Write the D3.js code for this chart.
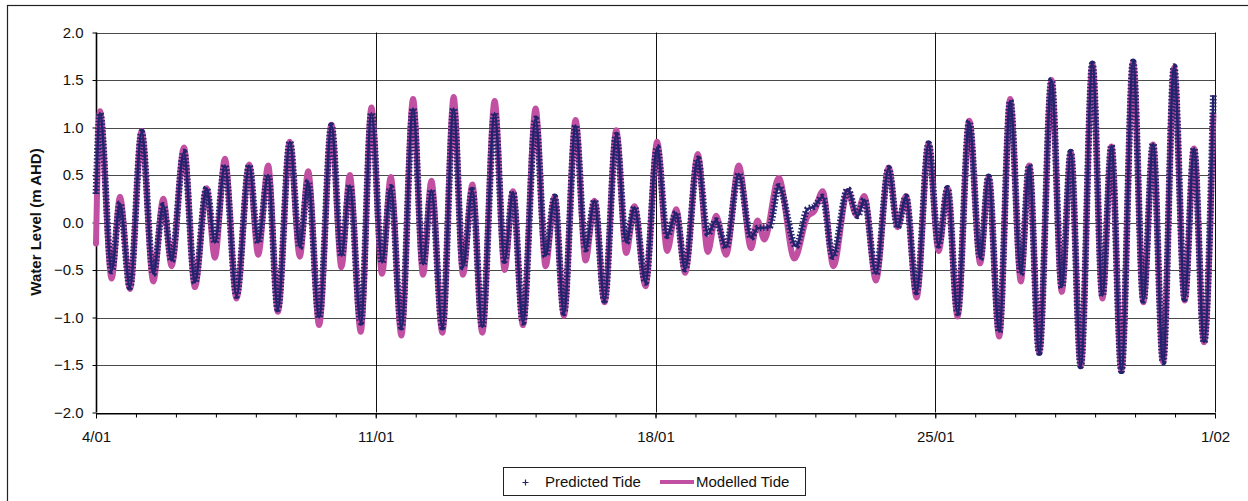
<!DOCTYPE html>
<html><head><meta charset="utf-8">
<script src="https://cdn.jsdelivr.net/npm/d3@7"></script>
<style>body{margin:0;background:#fff}svg{display:block}text{font-family:"Liberation Sans",Arial,sans-serif}</style>
</head><body><svg id="c" width="1248" height="501"></svg>
<script>
// hours since 4/01 00:00 and water level (m AHD) at turning points
const predHours = [0,2.4,9.4,14.4,20.4,27.4,34.4,40.4,45.4,52.8,59.4,66.4,71.4,77.4,84.4,92.0,97.4,103.4,109.2,116.4,122.4,127.4,134.0,141.4,147.4,152.4,159.0,165.4,171.8,177.0,183.4,190.4,196.4,201.4,208.0,214.8,220.4,226.0,232.0,239.4,245.4,250.4,256.4,264.0,270.0,275.4,281.0,288.0,294.0,299.4,305.4,312.4,318.4,323.4,330.0,337.0,343.0,348.4,353.8,361.4,367.4,372.4,378.4,386.0,393.4,397.2,404.4,410.0,420.4,427.2,431.4,436.4,442.4,451.4,457.4,461.4,468.4,476.0,481.4,486.4,492.8,500.0,506.0,511.4,517.4,524.4,531.0,536.0,542.4,549.0,555.4,560.4,566.4,573.8,580.0,585.4,591.4,598.4,604.4,609.8,615.8,622.8,629.0,634.8,640.8,647.4,653.8,659.4,665.4,671.0];
const predLevel = [0.30,1.15,-0.51,0.20,-0.68,0.95,-0.54,0.18,-0.40,0.74,-0.63,0.36,-0.21,0.60,-0.77,0.60,-0.21,0.50,-0.91,0.85,-0.26,0.43,-1.00,1.02,-0.35,0.39,-1.05,1.15,-0.42,0.37,-1.10,1.20,-0.44,0.34,-1.10,1.20,-0.47,0.34,-1.10,1.15,-0.40,0.32,-1.05,1.09,-0.35,0.27,-0.95,1.02,-0.28,0.23,-0.82,0.92,-0.21,0.16,-0.63,0.79,-0.14,0.10,-0.49,0.67,-0.12,0.02,-0.26,0.51,-0.16,-0.06,-0.05,0.38,-0.25,0.14,0.17,0.27,-0.36,0.35,0.07,0.24,-0.54,0.57,-0.05,0.27,-0.73,0.83,-0.24,0.36,-0.95,1.06,-0.38,0.48,-1.15,1.28,-0.54,0.60,-1.37,1.50,-0.68,0.74,-1.51,1.67,-0.77,0.81,-1.56,1.69,-0.82,0.83,-1.47,1.64,-0.80,0.78,-1.26,1.34];
const modHours = [0,2.4,9.4,14.4,20.4,27.4,34.4,40.4,45.4,52.8,59.4,66.4,71.4,77.4,84.4,92.0,97.4,103.4,109.2,116.4,122.4,127.4,134.0,141.4,147.4,152.4,159.0,165.4,171.8,177.0,183.4,190.4,196.4,201.4,208.0,214.8,220.4,226.0,232.0,239.4,245.4,250.4,256.4,264.0,270.0,275.4,281.0,288.0,294.0,299.4,305.4,312.4,318.4,323.4,330.0,337.0,343.0,348.4,353.8,361.4,367.4,372.4,378.4,386.0,393.4,397.2,401.4,410.0,419.4,427.2,431.4,436.4,442.8,451.4,456.6,461.4,468.4,476.0,481.4,486.4,492.8,500.0,506.0,511.4,517.4,524.4,531.0,536.0,542.4,549.0,555.4,560.4,566.4,573.8,580.0,585.4,591.4,598.4,604.4,609.8,615.8,622.8,629.0,634.8,640.8,647.4,653.8,659.4,665.4,671.0];
const modLevel = [-0.22,1.17,-0.59,0.27,-0.70,0.96,-0.62,0.25,-0.46,0.79,-0.68,0.36,-0.37,0.67,-0.80,0.61,-0.34,0.60,-0.94,0.85,-0.36,0.54,-1.08,1.03,-0.47,0.50,-1.15,1.21,-0.54,0.48,-1.19,1.30,-0.55,0.44,-1.16,1.32,-0.55,0.40,-1.16,1.28,-0.50,0.33,-1.08,1.20,-0.46,0.27,-0.98,1.08,-0.40,0.23,-0.84,0.97,-0.32,0.17,-0.67,0.85,-0.30,0.14,-0.53,0.72,-0.31,0.07,-0.34,0.60,-0.27,0.02,-0.18,0.47,-0.38,0.06,0.12,0.33,-0.46,0.33,0.08,0.28,-0.61,0.58,-0.05,0.28,-0.79,0.83,-0.30,0.36,-0.99,1.07,-0.43,0.48,-1.20,1.30,-0.62,0.60,-1.37,1.50,-0.73,0.74,-1.51,1.67,-0.80,0.80,-1.56,1.69,-0.84,0.82,-1.47,1.63,-0.82,0.78,-1.26,1.13];
const yTicks = [2.0,1.5,1.0,0.5,0.0,-0.5,-1.0,-1.5,-2.0];
const weekHours = [0,168,336,504,672];
const weekLabels = ["4/01","11/01","18/01","25/01","1/02"];
const dayHours = [0,24,48,72,96,120,144,168,192,216,240,264,288,312,336,360,384,408,432,456,480,504,528,552,576,600,624,648,672];
const seriesNames = ["Predicted Tide","Modelled Tide"];

const NAVY = "#23236e", MAG = "#c150a2";
const svg = d3.select("#c");
const x = d3.scaleLinear().domain([0,672]).range([96,1215]);
const y = d3.scaleLinear().domain([-2,2]).range([412.5,32.5]);

// outer frame
svg.append("rect").attr("x",7.5).attr("y",5.5).attr("width",1300).attr("height",600)
  .attr("fill","none").attr("stroke","#222").attr("stroke-width",1.2);

// horizontal gridlines
svg.append("g").selectAll("line").data(yTicks).join("line")
  .attr("x1",x(0)).attr("x2",x(672)).attr("y1",d=>Math.round(y(d))+0.5).attr("y2",d=>Math.round(y(d))+0.5)
  .attr("stroke",d=>d===-2?"#000":"#4a4a4a").attr("stroke-width",1);
// vertical gridlines
svg.append("g").selectAll("line").data(weekHours.slice(1)).join("line")
  .attr("x1",d=>Math.round(x(d))+0.5).attr("x2",d=>Math.round(x(d))+0.5).attr("y1",y(2)).attr("y2",y(-2))
  .attr("stroke","#111").attr("stroke-width",1);

// y axis
const yAxis = d3.axisLeft(y).tickValues(yTicks).tickFormat(d3.format(".1f")).tickSize(4).tickPadding(9);
const gy = svg.append("g").attr("transform",`translate(${Math.round(x(0))+0.5},0)`).call(yAxis);
gy.select(".domain").attr("stroke","#000").attr("stroke-width",1.6).attr("d",`M0,${y(2)}V${y(-2)}`);
gy.selectAll(".tick line").attr("stroke","#000");
gy.selectAll(".tick text").attr("font-size",15).attr("fill","#111").style("font-family","'Liberation Sans',Arial,sans-serif");

// x axis
const xAxisMinor = d3.axisBottom(x).tickValues(dayHours).tickSize(4).tickFormat("");
const gxm = svg.append("g").attr("transform",`translate(0,${Math.round(y(-2))+0.5})`).call(xAxisMinor);
gxm.select(".domain").attr("stroke","#000");
gxm.selectAll(".tick line").attr("stroke","#000");
const xAxis = d3.axisBottom(x).tickValues(weekHours).tickSize(5).tickPadding(13)
  .tickFormat((d,i)=>weekLabels[i]);
const gx = svg.append("g").attr("transform",`translate(0,${Math.round(y(-2))+0.5})`).call(xAxis);
gx.select(".domain").remove();
gx.selectAll(".tick line").attr("stroke","#000");
gx.selectAll(".tick text").attr("font-size",15).attr("fill","#111").style("font-family","'Liberation Sans',Arial,sans-serif");

// y title
svg.append("text").attr("transform",`translate(41,222) rotate(-90)`).attr("text-anchor","middle")
  .attr("font-size",15).attr("font-weight","bold").attr("fill","#111").text("Water Level (m AHD)");

// series
const modData = modHours.map((h,i)=>({h, v:modLevel[i]}));
const predData = predHours.map((h,i)=>({h, v:predLevel[i]}));
const line = d3.line().x(d=>x(d.h)).y(d=>y(d.v)).curve(d3.curveMonotoneX);

svg.append("path").datum(modData).attr("d",line).attr("fill","none")
  .attr("stroke",MAG).attr("stroke-width",6).attr("stroke-linejoin","round").attr("stroke-linecap","round");

const pd = line(predData);
svg.append("path").attr("d",pd).attr("fill","none").attr("stroke",NAVY).attr("stroke-width",2.6)
  .attr("stroke-linejoin","round");
svg.append("path").attr("d",pd).attr("fill","none").attr("stroke",NAVY).attr("stroke-width",6.8)
  .attr("stroke-dasharray","1.5 1.9");

// legend
const lg = svg.append("g");
lg.append("rect").attr("x",503.5).attr("y",467.5).attr("width",302).attr("height",28)
  .attr("fill","#fff").attr("stroke","#222").attr("stroke-width",1);
lg.append("path").attr("d","M522.5,482.5h6M525.5,479.5v6").attr("stroke",NAVY).attr("stroke-width",1.2);
lg.append("text").attr("x",545).attr("y",487).attr("font-size",15).attr("fill","#111").text(seriesNames[0]);
lg.append("line").attr("x1",660).attr("x2",694).attr("y1",482).attr("y2",482).attr("stroke",MAG).attr("stroke-width",4);
lg.append("text").attr("x",696).attr("y",487).attr("font-size",15).attr("fill","#111").text(seriesNames[1]);
</script></body></html>
